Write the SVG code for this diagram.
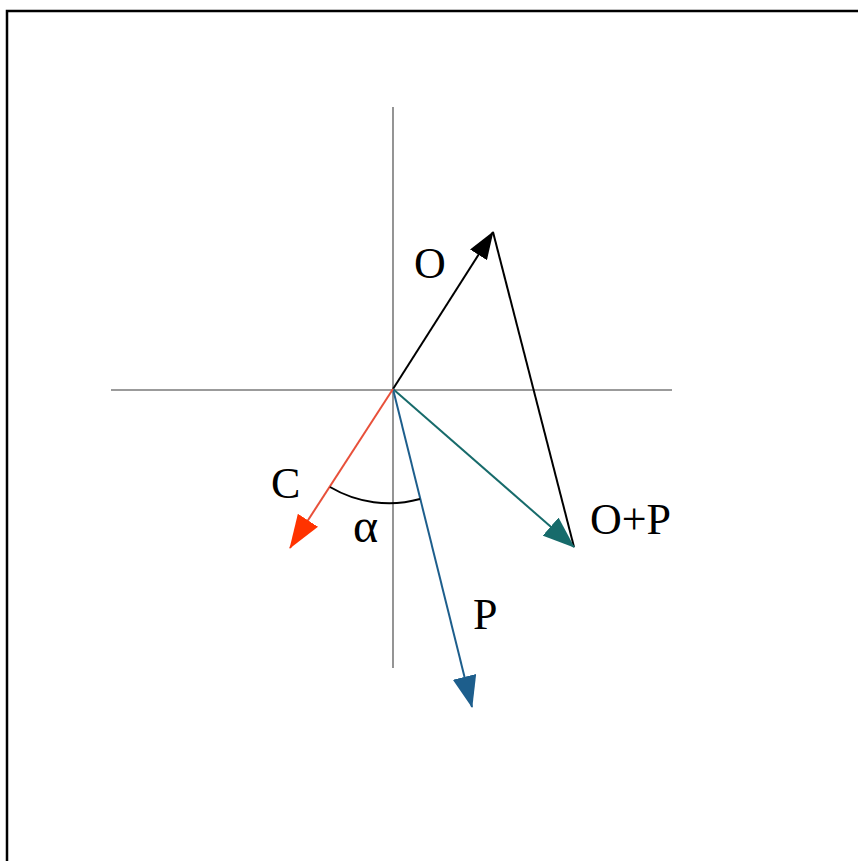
<svg xmlns="http://www.w3.org/2000/svg" width="858" height="861" viewBox="0 0 858 861">
<style>
.axis{stroke:#7a7a7a;stroke-width:1.6;fill:none}
.vec{fill:none;stroke-width:2}
.lbl{font-family:"Liberation Serif","Times New Roman",serif;font-size:44px;fill:#000}
</style>
<defs>
<marker id="ahBlack" markerUnits="userSpaceOnUse" viewBox="0 0 28 20" markerWidth="28" markerHeight="20" refX="27" refY="10" orient="auto"><path d="M0,0 L28,10 L0,20 Z" fill="#000"/></marker>
<marker id="ahRed" markerUnits="userSpaceOnUse" viewBox="0 0 34 24" markerWidth="34" markerHeight="24" refX="33" refY="12" orient="auto"><path d="M0,0 L34,12 L0,24 Z" fill="#ff3300"/></marker>
<marker id="ahTeal" markerUnits="userSpaceOnUse" viewBox="0 0 32 24" markerWidth="32" markerHeight="24" refX="31" refY="12" orient="auto"><path d="M0,0 L32,12 L0,24 Z" fill="#176b6b"/></marker>
<marker id="ahBlue" markerUnits="userSpaceOnUse" viewBox="0 0 32 24" markerWidth="32" markerHeight="24" refX="31" refY="12" orient="auto"><path d="M0,0 L32,12 L0,24 Z" fill="#1d5e8c"/></marker>
</defs>
<rect width="858" height="861" fill="#fff"/>
<g id="frame"><path d="M7,861 V11 H858" fill="none" stroke="#000" stroke-width="2.5"/></g>
<g id="axes">
<line class="axis" x1="111" y1="390" x2="672" y2="390"/>
<line class="axis" x1="393" y1="107" x2="393" y2="668"/>
</g>
<g id="connectors">
<line id="vecO" class="vec" x1="393" y1="389" x2="493" y2="232" stroke="#000" marker-end="url(#ahBlack)"/>
<line id="vecP2" class="vec" x1="493" y1="232" x2="574" y2="547" stroke="#000"/>
<line id="vecOP" class="vec" x1="393" y1="389" x2="574" y2="547" stroke="#176b6b" marker-end="url(#ahTeal)"/>
<line id="vecP" class="vec" x1="393" y1="389" x2="472" y2="707" stroke="#1d5e8c" marker-end="url(#ahBlue)"/>
<line id="vecC" class="vec" x1="393" y1="389" x2="290" y2="548" stroke="#e8503a" stroke-width="1.5" marker-end="url(#ahRed)"/>
<path id="arcAlpha" d="M330,487 A116,116 0 0 0 420,499" fill="none" stroke="#000" stroke-width="2"/>
</g>
<g id="labelO"><text class="lbl" x="414" y="278">O</text></g>
<g id="labelC"><text class="lbl" x="271" y="498">C</text></g>
<g id="labelAlpha"><text class="lbl" x="353" y="542" style="font-size:48px">α</text></g>
<g id="labelOP"><text class="lbl" x="590" y="534">O+P</text></g>
<g id="labelP"><text class="lbl" x="473" y="629">P</text></g>
</svg>
